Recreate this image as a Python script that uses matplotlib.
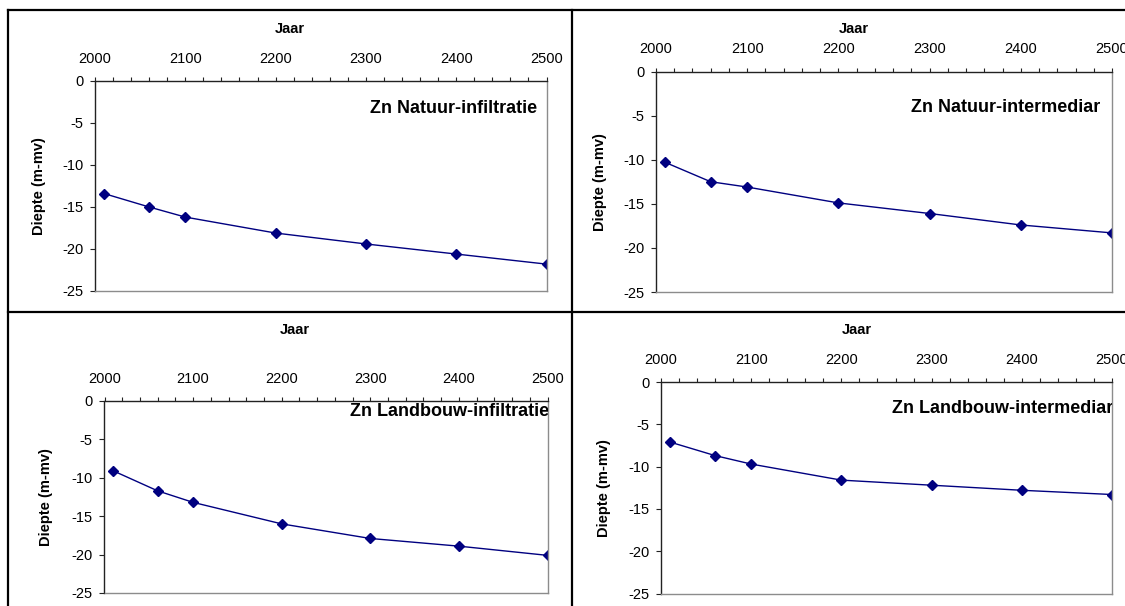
import matplotlib.pyplot as plt
from matplotlib.lines import Line2D
from matplotlib.ticker import MultipleLocator

plt.rcParams['font.family'] = ['Liberation Sans', 'DejaVu Sans']
plt.rcParams['axes.unicode_minus'] = False

# jaartallen en indringdiepte (m-mv) van het Zn-front
jaar = [2010, 2060, 2100, 2200, 2300, 2400, 2500]
natuur_infiltratie = [-13.4, -15.0, -16.2, -18.1, -19.4, -20.6, -21.8]
natuur_intermediar = [-10.3, -12.5, -13.1, -14.9, -16.1, -17.4, -18.3]
landbouw_infiltratie = [-9.1, -11.7, -13.2, -16.0, -17.9, -18.9, -20.1]
landbouw_intermediar = [-7.1, -8.7, -9.7, -11.6, -12.2, -12.8, -13.3]

titels = ['Zn Natuur-infiltratie', 'Zn Natuur-intermediar',
          'Zn Landbouw-infiltratie', 'Zn Landbouw-intermediar']
reeksen = [natuur_infiltratie, natuur_intermediar,
           landbouw_infiltratie, landbouw_intermediar]

W, H = 1125, 606

# plaatsing in pixels: (links, boven, rechts, onder), 'Jaar' (x, y), ylabel x,
# titel (rechts, basislijn)
layout = [
    ((95, 81, 546.5, 291), (290, 29), 46, (537, 113)),
    ((656, 71.5, 1112, 292), (854, 29), 607, (1100, 112)),
    ((104.5, 401, 547.5, 593), (295, 330), 53.5, (549, 415.5)),
    ((661, 382, 1112, 593.5), (857, 330), 610.5, (1113, 413)),
]

fig = plt.figure(figsize=(W / 100, H / 100), dpi=100)

for titel, diepte, (box, jaar_xy, ylab_x, titel_xy) in zip(titels, reeksen, layout):
    l, t, r, b = box
    ax = fig.add_axes([l / W, 1 - b / H, (r - l) / W, (b - t) / H])
    ax.plot(jaar, diepte, color='#000080', lw=1.0, marker='D', ms=5,
            mfc='#000080', mec='#000080')
    ax.set_xlim(2000, 2500)
    ax.set_ylim(-25, 0)
    ax.xaxis.tick_top()
    ax.set_xticks(range(2000, 2501, 100))
    ax.xaxis.set_minor_locator(MultipleLocator(20))
    ax.set_yticks(range(-25, 1, 5))
    ax.tick_params(axis='x', which='both', direction='out', length=3, width=0.8,
                   pad=8, labelsize=10.5, colors='#222222', labelcolor='black')
    ax.tick_params(axis='y', direction='out', length=3.5, width=0.8, pad=5,
                   labelsize=10.5, colors='#222222', labelcolor='black')
    for kant in ['top', 'left']:
        ax.spines[kant].set_color('#222222')
        ax.spines[kant].set_linewidth(1.0)
    for kant in ['right', 'bottom']:
        ax.spines[kant].set_color('#8c8c8c')
        ax.spines[kant].set_linewidth(1.0)

    ax.set_ylabel('Diepte (m-mv)', fontsize=10.5, fontweight='bold')
    ax.yaxis.set_label_coords((ylab_x - l) / (r - l), 0.5)

    fig.text(jaar_xy[0] / W, 1 - jaar_xy[1] / H, 'Jaar', fontsize=10.5,
             fontweight='bold', ha='center', va='center')
    ax.text((titel_xy[0] - l) / (r - l), (b - titel_xy[1]) / (b - t), titel,
            transform=ax.transAxes, fontsize=13, fontweight='bold',
            ha='right', va='baseline', clip_on=True)

# kaderlijnen rond de vier grafieken
randen = [
    ((8, 8), (10, H)),
    ((8, W), (10, 10)),
    ((572, 572), (10, H)),
    ((8, W), (312, 312)),
]
for xs, ys in randen:
    fig.add_artist(Line2D([x / W for x in xs], [1 - y / H for y in ys],
                          color='black', lw=1.6))

fig.savefig('out.png', dpi=100)
